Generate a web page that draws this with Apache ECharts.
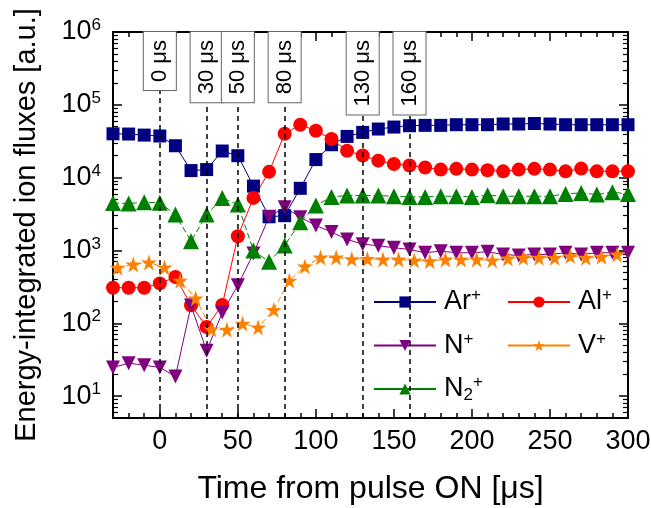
<!DOCTYPE html>
<html><head><meta charset="utf-8">
<script src="https://cdn.jsdelivr.net/npm/echarts@6/dist/echarts.min.js"></script>
<style>html,body{margin:0;padding:0;background:#fff}#c{width:651px;height:508px}</style>
</head><body><div id="c"></div>
<script>
const time = [-30,-20,-10,0,10,20,30,40,50,60,70,80,90,100,110,120,130,140,150,160,170,180,190,200,210,220,230,240,250,260,270,280,290,300];
const timeV = [-27,-17,-7,3,13,23,33,43,53,63,73,83,93,103,113,123,133,143,153,163,173,183,193,203,213,223,233,243,253,263,273,283,293];
const arPlus = [40000,39700,38400,37300,27400,12500,12900,23200,20000,7650,2900,3000,7130,17700,28300,36800,41800,46500,49500,51600,52200,52200,53300,53300,53300,54500,54500,55400,54500,53300,53300,53300,53300,53300];
const alPlus = [308,308,308,353,431,177,89,178,1570,5270,12000,40100,53200,44000,33900,23400,20100,17100,15400,14700,13800,12900,13200,12900,12600,12200,12900,13200,12900,12200,13300,12200,12200,12200];
const nPlus = [24.7,28.3,26.6,24.7,18.6,175,41.8,140,332,910,2900,3910,2850,2200,1790,1415,1220,1160,1090,1030,930,978,930,930,960,880,855,880,880,930,880,930,930,930];
const n2Plus = [4480,4410,4590,4520,3110,1340,3110,5270,4270,1000,700,1170,2440,4130,5440,5670,5670,5670,5550,5440,5440,5550,5550,5440,5730,5550,5550,5550,5550,5980,6170,5860,6290,5980];
const vPlus = [580,643,685,585,385,219,82.8,81.7,99,88,153,385,604,802,802,762,765,753,753,730,713,753,753,753,730,776,794,794,794,836,794,820,881];
const markTimes = [0,30,50,80,130,160];

const FONT = 'Liberation Sans, Arial, sans-serif';
const STAR = 'path://M50,0 L61.2,34.5 L97.6,34.5 L68.2,55.9 L79.4,90.5 L50,69.1 L20.6,90.5 L31.8,55.9 L2.4,34.5 L38.8,34.5 Z';
const TRI_DOWN = 'path://M0,0 L100,0 L50,87 Z';

const pairs = (xs, ys) => ys.map((v, i) => [xs[i], v]);
const supRich = {
  b: {fontSize: 27, fontFamily: FONT, color: '#000', lineHeight: 30},
  s: {fontSize: 17, fontFamily: FONT, color: '#000', verticalAlign: 'top', lineHeight: 17},
  d: {fontSize: 17, fontFamily: FONT, color: '#000', verticalAlign: 'bottom', lineHeight: 17}
};
const legendNames = {
  'Ar+': '{b|Ar}{s|+}', 'Al+': '{b|Al}{s|+}', 'N+': '{b|N}{s|+}', 'V+': '{b|V}{s|+}', 'N2+': '{b|N}{d|2}{s|+}'
};

const logFmt = v => {
  const e = Math.log10(v);
  if (Math.abs(e - Math.round(e)) < 1e-6) return '{b|10}{s|' + Math.round(e) + '}';
  return '';
};

const xBase = {type: 'value', min: -30, max: 300, splitLine: {show: false}};
const yBase = {type: 'log', logBase: 10, min: 5, max: 1000000, splitLine: {show: false}};

const chart = echarts.init(document.getElementById('c'), null, {renderer: 'canvas'});
const lineSeries = (name, xs, ys, color, symbol, size, dashed) => ({
  name, type: 'line', data: pairs(xs, ys), symbol, symbolSize: size,
  lineStyle: {color, width: 1, type: dashed ? [6, 3] : 'solid'},
  itemStyle: {color}, color, showAllSymbol: true, animation: false
});

const boxLabel = t => ({
  show: true, formatter: t + ' μs', position: 'insideEnd', distance: 0,
  fontSize: 22, fontFamily: FONT, color: '#000',
  backgroundColor: '#fff', borderColor: '#666', borderWidth: 1, padding: [6, 8, 4, 8]
});
const sAr = lineSeries('Ar+', time, arPlus, '#000080', 'rect', 13, false);
sAr.markLine = {
  silent: true, symbol: 'none', animation: false,
  lineStyle: {color: '#000', type: [5, 4], width: 1.5},
  label: {position: 'insideEnd', distance: 0, fontSize: 22},
  data: markTimes.map(t => ({xAxis: t, label: boxLabel(t)}))
};

const axisLineStyle = {show: true, onZero: false, lineStyle: {color: '#000', width: 2}};

const option = {
  animation: false,
  backgroundColor: '#fff',
  grid: {left: 113, right: 23, top: 32, bottom: 90, containLabel: false, outerBoundsMode: 'none'},
  xAxis: [
    Object.assign({}, xBase, {position: 'bottom', interval: 10,
      name: 'Time from pulse ON [μs]', nameLocation: 'middle', nameGap: 55,
      nameTextStyle: {fontSize: 32, fontFamily: FONT, color: '#000'},
      axisLine: axisLineStyle,
      axisTick: {show: true, inside: true, length: 5, lineStyle: {color: '#000', width: 1.5}},
      axisLabel: {show: true, margin: 10, fontSize: 27, fontFamily: FONT, color: '#000',
        formatter: v => (v % 50 === 0 ? String(v) : '')}}),
    Object.assign({}, xBase, {position: 'bottom', splitNumber: 7,
      axisLine: {show: false, onZero: false}, axisTick: {show: true, inside: true, length: 9, lineStyle: {color: '#000', width: 1.5}},
      axisLabel: {show: false}}),
    Object.assign({}, xBase, {position: 'top', interval: 10,
      axisLine: axisLineStyle,
      axisTick: {show: true, inside: true, length: 5, lineStyle: {color: '#000', width: 1.5}},
      axisLabel: {show: false}}),
    Object.assign({}, xBase, {position: 'top', splitNumber: 7,
      axisLine: {show: false, onZero: false}, axisTick: {show: true, inside: true, length: 9, lineStyle: {color: '#000', width: 1.5}},
      axisLabel: {show: false}})
  ],
  yAxis: [
    Object.assign({}, yBase, {position: 'left',
      name: 'Energy-integrated ion fluxes [a.u.]', nameLocation: 'middle', nameGap: 72,
      nameTextStyle: {fontSize: 29, fontFamily: FONT, color: '#000'},
      axisLine: axisLineStyle,
      axisTick: {show: true, inside: true, length: 9, lineStyle: {color: '#000', width: 1.5}},
      minorTick: {show: true, splitNumber: 9, length: 5, lineStyle: {color: '#000', width: 1.2}},
      axisLabel: {show: true, margin: 12, formatter: logFmt, rich: supRich}}),
    Object.assign({}, yBase, {position: 'right',
      axisLine: axisLineStyle,
      axisTick: {show: true, inside: true, length: 9, lineStyle: {color: '#000', width: 1.5}},
      minorTick: {show: true, splitNumber: 9, length: 5, lineStyle: {color: '#000', width: 1.2}},
      axisLabel: {show: false}})
  ],
  legend: [
    {data: ['Ar+', 'N+', 'N2+'], orient: 'vertical', left: 368, top: 282, itemWidth: 62, itemHeight: 14,
      itemGap: 15, formatter: n => legendNames[n], textStyle: {rich: supRich, padding: [0, 0, 0, 3]},
      lineStyle: {type: 'solid'}},
    {data: ['Al+', 'V+'], orient: 'vertical', left: 502, top: 282, itemWidth: 62, itemHeight: 14,
      itemGap: 15, formatter: n => legendNames[n], textStyle: {rich: supRich, padding: [0, 0, 0, 3]},
      lineStyle: {type: 'solid'}}
  ],
  series: [
    sAr,
    lineSeries('Al+', time, alPlus, '#ff0000', 'circle', 14, false),
    lineSeries('N+', time, nPlus, '#800080', TRI_DOWN, 14, false),
    lineSeries('N2+', time, n2Plus, '#008000', 'triangle', 16, true),
    lineSeries('V+', timeV, vPlus, '#ff8000', STAR, 16, true)
  ]
};
chart.setOption(option);
</script></body></html>
